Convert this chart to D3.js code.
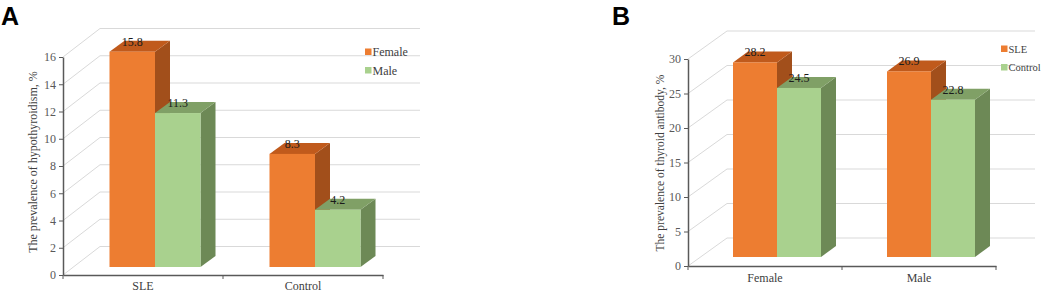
<!DOCTYPE html>
<html lang="en">
<head>
  <meta charset="UTF-8">
  <title>Prevalence of hypothyroidism and thyroid antibody</title>
  <script src="https://d3js.org/d3.v7.min.js"></script>
  <style>
    body {
      margin: 0;
      background: #fff;
    }
    svg {
      display: block;
    }
  </style>
</head>
<body>
<svg width="1041" height="292"></svg>

<script>
  // Panel A: hypothyroidism
  const aCategories = ["SLE", "Control"];
  const aSeries = ["Female", "Male"];
  const aFemale = [15.8, 8.3];
  const aMale = [11.3, 4.2];
  const aTicks = [0, 2, 4, 6, 8, 10, 12, 14, 16];

  // Panel B: thyroid antibody
  const bCategories = ["Female", "Male"];
  const bSeries = ["SLE", "Control"];
  const bSLE = [28.2, 26.9];
  const bControl = [24.5, 22.8];
  const bTicks = [0, 5, 10, 15, 20, 25, 30];

  const serif = "'Liberation Serif', 'Times New Roman', serif";

  const colors = [
    { front: "#ed7d31", top: "#c05a1c", side: "#a24f1b" },
    { front: "#a9d18e", top: "#80a066", side: "#6d8956" }
  ];

  const svg = d3.select("svg");

  function drawPanel(opt) {
    const g = svg.append("g");
    const y = d3.scaleLinear().domain([0, opt.max]).range([opt.base, opt.top]);
    const x = d3.scaleBand().domain(opt.categories).range([opt.x0, opt.x1]);
    const inner = d3.scaleBand().domain(opt.series).range([0, opt.groupW]);

    const wall = { dx: opt.wallDx, dy: opt.wallDy };
    const barFront = { dx: 12, dy: opt.barDy };
    const barDepth = { dx: 15, dy: -11 };

    // gridlines: diagonal on the left wall then horizontal on the back wall
    g.append("g").selectAll("path")
      .data(opt.ticks)
      .join("path")
      .attr("fill", "none")
      .attr("stroke", "#d9d9d9")
      .attr("stroke-width", 1)
      .attr("d", t => {
        const yy = y(t);
        return `M${opt.x0},${yy}L${opt.x0 + wall.dx},${yy + wall.dy}L${opt.x1 + wall.dx},${yy + wall.dy}`;
      });

    // bars
    const bars = [];
    opt.categories.forEach((c, i) => {
      opt.series.forEach((s, j) => {
        const left = x(c) + x.bandwidth() / 2 - opt.groupW / 2 + inner(s) + barFront.dx;
        bars.push({
          value: opt.values[j][i],
          col: colors[j],
          x0: left,
          x1: left + inner.bandwidth(),
          y0: y(0) + barFront.dy,
          y1: y(opt.values[j][i]) + barFront.dy
        });
      });
    });

    const barG = g.append("g").selectAll("g")
      .data(bars)
      .join("g");

    barG.append("path")
      .attr("fill", d => d.col.side)
      .attr("d", d => `M${d.x1},${d.y1}L${d.x1 + barDepth.dx},${d.y1 + barDepth.dy}L${d.x1 + barDepth.dx},${d.y0 + barDepth.dy}L${d.x1},${d.y0}Z`);

    barG.append("path")
      .attr("fill", d => d.col.top)
      .attr("d", d => `M${d.x0},${d.y1}L${d.x0 + barDepth.dx},${d.y1 + barDepth.dy}L${d.x1 + barDepth.dx},${d.y1 + barDepth.dy}L${d.x1},${d.y1}Z`);

    barG.append("rect")
      .attr("fill", d => d.col.front)
      .attr("x", d => d.x0)
      .attr("y", d => d.y1)
      .attr("width", d => d.x1 - d.x0)
      .attr("height", d => d.y0 - d.y1);

    barG.append("text")
      .style("font-family", serif)
      .style("font-size", "12px")
      .attr("x", d => (d.x0 + d.x1) / 2)
      .attr("y", d => d.y1 - 6)
      .attr("text-anchor", "middle")
      .attr("fill", "#1a1a1a")
      .text(d => d.value.toFixed(1));

    // y axis
    const yAxis = g.append("g")
      .attr("transform", `translate(${opt.x0},0)`)
      .call(d3.axisLeft(y).tickValues(opt.ticks).tickSize(4).tickSizeOuter(0));
    yAxis.select(".domain").attr("stroke", "#595959").attr("stroke-width", 1.5);
    yAxis.selectAll(".tick line").attr("stroke", "#595959");
    yAxis.selectAll(".tick text")
      .style("font-family", serif)
      .style("font-size", "12px")
      .attr("fill", "#595959")
      .attr("x", -7);

    // x axis
    const xAxis = g.append("g")
      .attr("transform", `translate(0,${opt.base})`)
      .call(d3.axisBottom(x).tickSize(0).tickSizeOuter(0));
    xAxis.select(".domain").attr("stroke", "#595959").attr("stroke-width", 1.5);
    xAxis.selectAll(".tick text")
      .style("font-family", serif)
      .style("font-size", "12px")
      .attr("fill", "#404040")
      .attr("dy", null)
      .attr("y", opt.catY);
    // tick marks at band edges
    g.append("g").selectAll("line")
      .data(d3.range(opt.categories.length + 1))
      .join("line")
      .attr("x1", i => opt.x0 + i * x.step())
      .attr("x2", i => opt.x0 + i * x.step())
      .attr("y1", opt.base)
      .attr("y2", opt.base + 4)
      .attr("stroke", "#595959");

    // y label
    g.append("text")
      .style("font-family", serif)
      .style("font-size", opt.labelSize + "px")
      .attr("transform", `translate(${opt.labelX},${opt.labelY}) rotate(-90)`)
      .attr("text-anchor", "middle")
      .attr("dominant-baseline", "central")
      .attr("fill", "#404040")
      .text(opt.yLabel);

    // legend
    const leg = g.append("g").selectAll("g")
      .data(opt.series)
      .join("g")
      .attr("transform", (d, i) => `translate(${opt.legX},${opt.legY + i * 18.5})`);
    leg.append("rect")
      .attr("x", 0).attr("y", -3.5)
      .attr("width", 6.5).attr("height", 6.5)
      .attr("fill", (d, i) => colors[i].front);
    leg.append("text")
      .style("font-family", serif)
      .style("font-size", opt.legSize + "px")
      .attr("x", 7.5)
      .attr("dy", "0.35em")
      .attr("fill", "#404040")
      .text(d => d);

    // panel letter
    g.append("text")
      .attr("x", opt.letterX)
      .attr("y", 25)
      .style("font-family", "'Liberation Sans', Arial, sans-serif")
      .style("font-weight", "bold")
      .style("font-size", "25px")
      .attr("fill", "#000")
      .text(opt.letter);
  }

  drawPanel({
    letter: "A", letterX: 1,
    categories: aCategories, series: aSeries,
    values: [aFemale, aMale], ticks: aTicks, max: 16,
    x0: 63, x1: 383, base: 275, top: 57,
    groupW: 91, barDy: -8,
    wallDx: 37, wallDy: -28.5,
    catY: 15,
    yLabel: "The prevalence of hypothyroidism, %",
    labelX: 33, labelY: 162, labelSize: 12,
    legX: 365, legY: 52, legSize: 12
  });

  drawPanel({
    letter: "B", letterX: 612,
    categories: bCategories, series: bSeries,
    values: [bSLE, bControl], ticks: bTicks, max: 30,
    x0: 688, x1: 996, base: 266, top: 59,
    groupW: 88, barDy: -9,
    wallDx: 39, wallDy: -28,
    catY: 16,
    yLabel: "The prevalence of thyroid antibody, %",
    labelX: 660, labelY: 163, labelSize: 11.5,
    legX: 1001, legY: 49, legSize: 10.5
  });
</script>

</body>
</html>
